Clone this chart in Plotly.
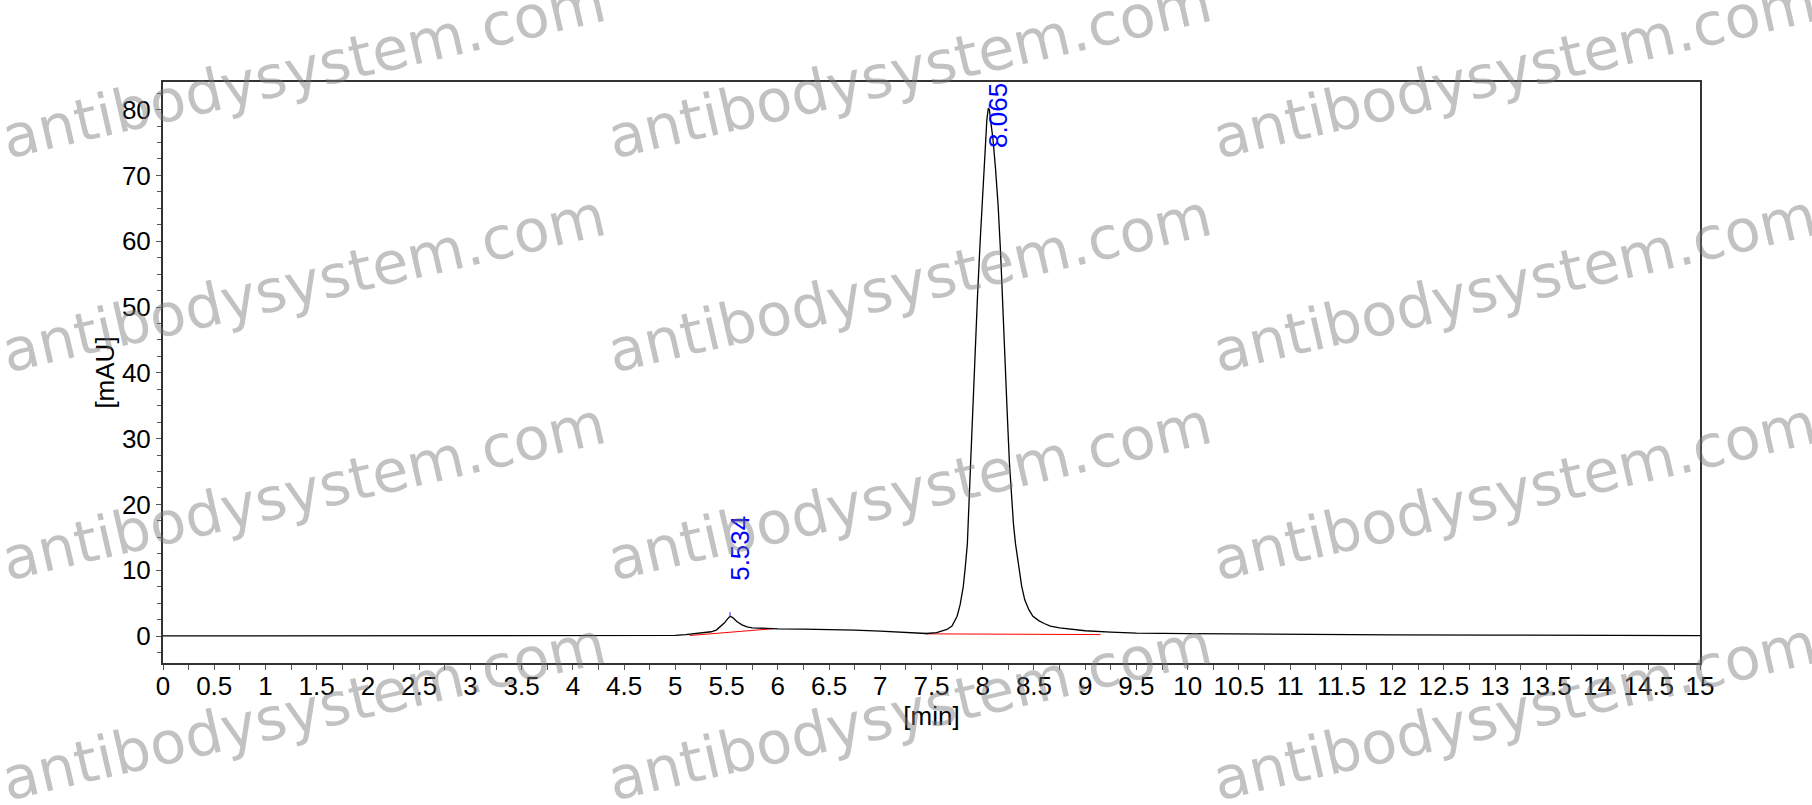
import plotly.graph_objects as go

# ---------------- data ----------------
time_min = [0.0, 1.0, 2.0, 3.0, 4.0, 4.8, 5.0, 5.1, 5.2, 5.3, 5.35, 5.4, 5.45, 5.48,
            5.51, 5.534, 5.56, 5.6, 5.65, 5.7, 5.75, 5.8, 5.9, 6.0, 6.25, 6.5, 6.75,
            7.0, 7.2, 7.35, 7.45, 7.55, 7.6, 7.65, 7.7, 7.75, 7.78, 7.81, 7.83, 7.85,
            7.875, 7.9, 7.925, 7.95, 7.975, 8.0, 8.02, 8.04, 8.054, 8.065, 8.08, 8.1,
            8.125, 8.15, 8.175, 8.2, 8.22, 8.24, 8.26, 8.28, 8.3, 8.32, 8.35, 8.38,
            8.41, 8.45, 8.49, 8.55, 8.6, 8.66, 8.75, 8.82, 9.0, 9.25, 9.5, 10.0, 10.5,
            11.0, 11.08, 11.12, 11.2, 11.5, 12.0, 13.0, 14.0, 14.6, 14.62, 15.0]
signal_mau = [0.02, 0.02, 0.03, 0.02, 0.0, 0.05, 0.1, 0.2, 0.35, 0.5, 0.65, 0.9, 1.5, 2.0,
              2.6, 3.0, 2.8, 2.2, 1.7, 1.4, 1.25, 1.2, 1.15, 1.1, 1.05, 1.0, 0.9,
              0.75, 0.55, 0.4, 0.38, 0.5, 0.7, 1.0, 1.5, 3.0, 4.8, 7.5, 10.5, 14.0,
              23.7, 34.0, 44.0, 52.0, 60.0, 67.0, 73.0, 78.4, 80.2, 80.0, 78.0, 75.5,
              71.0, 65.5, 58.0, 49.5, 41.5, 33.5, 26.5, 21.0, 17.0, 14.0, 10.6, 7.6,
              5.5, 4.0, 3.0, 2.3, 1.9, 1.5, 1.25, 1.1, 0.8, 0.6, 0.45, 0.35, 0.3,
              0.25, 0.3, 0.2, 0.22, 0.2, 0.18, 0.15, 0.15, 0.15, 0.05, 0.05]

baseline1_t = [5.14, 5.95]
baseline1_v = [0.08, 1.1]
baseline2_t = [7.44, 9.15]
baseline2_v = [0.33, 0.22]

peak_rt = [5.534, 8.065]
peak_height = [3.0, 80.2]
peak_labels = ["5.534", "8.065"]

x_tick_vals = [i * 0.5 for i in range(31)]
x_tick_text = ["0", "0.5", "1", "1.5", "2", "2.5", "3", "3.5", "4", "4.5", "5", "5.5",
               "6", "6.5", "7", "7.5", "8", "8.5", "9", "9.5", "10", "10.5", "11", "11.5",
               "12", "12.5", "13", "13.5", "14", "14.5", "15"]
y_tick_vals = [0, 10, 20, 30, 40, 50, 60, 70, 80]
y_tick_text = ["0", "10", "20", "30", "40", "50", "60", "70", "80"]

x_title = "[min]"
y_title = "[mAU]"
watermark = "antibodysystem.com"

# ---------------- layout geometry (pixels) ----------------
W, H = 1812, 805
L, R, T, B = 163, 1700, 82, 663
FONT = "Liberation Sans, Arial, sans-serif"

fig = go.Figure()

fig.add_trace(go.Scatter(x=baseline1_t, y=baseline1_v, mode="lines",
                         line=dict(color="#ff0000", width=1), hoverinfo="skip"))
fig.add_trace(go.Scatter(x=baseline2_t, y=baseline2_v, mode="lines",
                         line=dict(color="#ff0000", width=1), hoverinfo="skip"))
fig.add_trace(go.Scatter(x=time_min, y=signal_mau, mode="lines",
                         line=dict(color="#000000", width=1.3)))

# small blue apex markers
for rt, h in zip(peak_rt, peak_height):
    fig.add_trace(go.Scatter(x=[rt, rt], y=[h, h + 0.6], mode="lines",
                             line=dict(color="#6a6aff", width=1.5), hoverinfo="skip"))

# peak labels
fig.add_annotation(x=peak_rt[0], y=peak_height[0], xref="x", yref="y",
                   text=peak_labels[0], textangle=-90, showarrow=False,
                   xanchor="center", yanchor="bottom", xshift=10, yshift=33,
                   font=dict(family=FONT, size=26, color="#0000ff"))
fig.add_annotation(x=peak_rt[1], y=1, xref="x", yref="paper",
                   text=peak_labels[1], textangle=-90, showarrow=False,
                   xanchor="center", yanchor="top", xshift=8, yshift=1,
                   font=dict(family=FONT, size=26, color="#0000ff"))

# watermark
wm_cols = [303, 909, 1514]
wm_rows = [69, 283, 491, 711]
for cy in wm_rows:
    for cx in wm_cols:
        fig.add_annotation(x=(cx - L) / (R - L), y=(B - cy) / (B - T),
                           xref="paper", yref="paper", text=watermark,
                           textangle=-13, showarrow=False,
                           xanchor="center", yanchor="middle",
                           font=dict(family="DejaVu Sans, Verdana, sans-serif",
                                     size=59, color="rgba(120,120,120,0.45)"))

axis_common = dict(showline=True, linecolor="#333333", linewidth=2, mirror=True,
                   ticks="outside", ticklen=5, tickwidth=1, tickcolor="#555555",
                   showgrid=False, zeroline=False,
                   tickfont=dict(family=FONT, size=26, color="#000000"),
                   title_font=dict(family=FONT, size=26, color="#000000"))

fig.update_xaxes(range=[0, 15], tickmode="array", tickvals=x_tick_vals,
                 ticktext=x_tick_text, title_text=x_title, title_standoff=0,
                 ticklabelstandoff=-6,
                 minor=dict(dtick=0.25, ticklen=5, tickcolor="#555555", ticks="outside"),
                 **axis_common)
fig.update_yaxes(range=[-4.1, 84.2], tickmode="array", tickvals=y_tick_vals,
                 ticktext=y_tick_text, title_text=y_title, title_standoff=0,
                 minor=dict(dtick=2.5, ticklen=4, tickcolor="#555555", ticks="outside"),
                 **axis_common)

fig.update_layout(width=W, height=H, showlegend=False,
                  margin=dict(l=L, r=W - R, t=T, b=H - B, pad=0),
                  paper_bgcolor="#ffffff", plot_bgcolor="#ffffff")

fig.write_html("out.html", config={"displayModeBar": False},
               post_script="document.body.style.margin='0';")
